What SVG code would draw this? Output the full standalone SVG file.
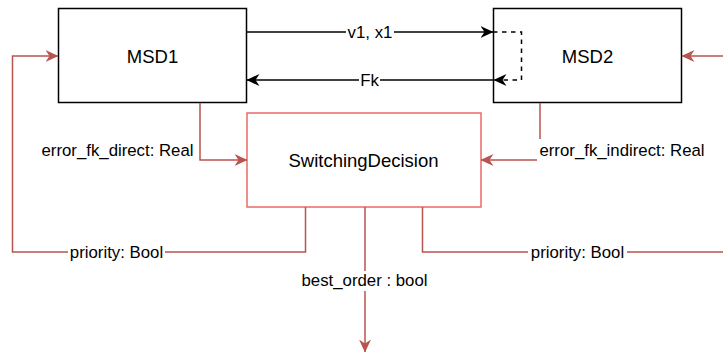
<svg xmlns="http://www.w3.org/2000/svg" width="723" height="352" viewBox="0 0 723 352">
<style>
.box{fill:#fff;stroke:#000;stroke-width:1.5}
.sd{fill:#fff;stroke:#EA6B66;stroke-width:1.5}
.nl{font-family:"Liberation Sans",Arial,sans-serif;font-size:18.5px;fill:#000;text-anchor:middle}
.el{font-family:"Liberation Sans",Arial,sans-serif;font-size:16.8px;fill:#000;text-anchor:middle}
.blk{fill:none;stroke:#000;stroke-width:1.5}
.red{fill:none;stroke:#B85450;stroke-width:1.5}
.bg{fill:#fff;stroke:none}
</style>
<defs>
<marker id="ab" viewBox="0 0 13 12" refX="12.5" refY="6" markerWidth="13" markerHeight="12" markerUnits="userSpaceOnUse" orient="auto">
<path d="M0,0 L13,6 L0,12 L4,6 Z" fill="#000"/>
</marker>
<marker id="ar" viewBox="0 0 13 12" refX="12.5" refY="6" markerWidth="13" markerHeight="12" markerUnits="userSpaceOnUse" orient="auto">
<path d="M0,0 L13,6 L0,12 L4,6 Z" fill="#B85450"/>
</marker>
</defs>
<g id="MSD1">
<rect class="box" x="58.5" y="8.5" width="188" height="94"/>
<text class="nl" x="152.5" y="63">MSD1</text>
</g>
<g id="MSD2">
<rect class="box" x="493.5" y="8.5" width="188" height="94"/>
<text class="nl" x="587.5" y="63">MSD2</text>
</g>
<g id="SwitchingDecision">
<rect class="sd" x="247" y="113" width="234" height="94"/>
<text class="nl" x="363.5" y="167">SwitchingDecision</text>
</g>
<g id="connectors">
<path class="blk" d="M247,32 L493,32" marker-end="url(#ab)"/>
<path class="blk" d="M493,80 L247,80" marker-end="url(#ab)"/>
<path class="blk" d="M493,32 L521.5,32 L521.5,80 L494,80" stroke-dasharray="4.5 4.5" marker-end="url(#ab)"/>
<path class="red" d="M200,103 L200,160 L247,160" marker-end="url(#ar)"/>
<path class="red" d="M540,103 L540,160 L481,160" marker-end="url(#ar)"/>
<path class="red" d="M305.5,207 L305.5,252 L12.5,252 L12.5,56 L58,56" marker-end="url(#ar)"/>
<path class="red" d="M422.5,207 L422.5,252 L723,252"/>
<path class="red" d="M723,56 L682,56" marker-end="url(#ar)"/>
<path class="red" d="M365,207 L365,352" marker-end="url(#ar)"/>
<rect class="bg" x="346" y="23" width="48" height="18"/>
<text class="el" x="370" y="38">v1, x1</text>
<rect class="bg" x="359" y="71" width="21" height="18"/>
<text class="el" x="369.5" y="86">Fk</text>
<text class="el" x="117.5" y="156">error_fk_direct: Real</text>
<rect class="bg" x="537" y="139" width="173" height="24"/>
<text class="el" x="622" y="156">error_fk_indirect: Real</text>
<rect class="bg" x="68" y="243" width="97" height="18"/>
<text class="el" x="116.5" y="258">priority: Bool</text>
<rect class="bg" x="528" y="243" width="99" height="18"/>
<text class="el" x="577.5" y="258">priority: Bool</text>
<rect class="bg" x="297" y="271" width="134" height="20"/>
<text class="el" x="364.5" y="286">best_order : bool</text>
</g>
</svg>
